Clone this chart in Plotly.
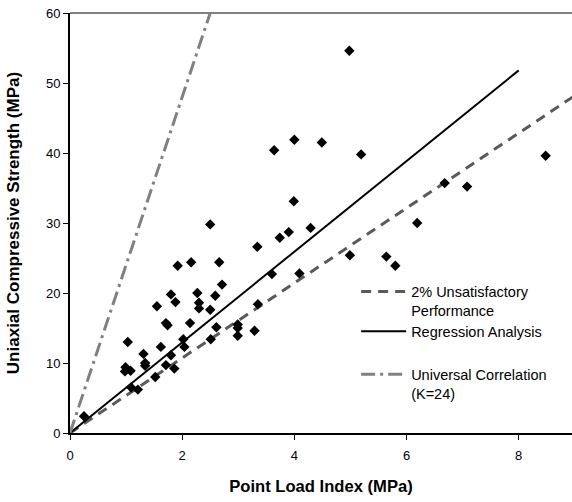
import plotly.graph_objects as go

# Point Load Index (MPa) vs Uniaxial Compressive Strength (MPa)
pli = [0.25, 0.99, 0.98, 1.08, 1.03, 1.09, 1.21, 1.31, 1.34, 1.34,
       1.52, 1.55, 1.62, 1.71, 1.74, 1.71, 1.80, 1.86, 1.80, 1.88,
       1.92, 2.02, 2.04, 2.14, 2.16, 2.27, 2.30, 2.30, 2.50, 2.51,
       2.50, 2.59, 2.61, 2.66, 2.71, 2.99, 2.99, 2.99, 3.29, 3.34,
       3.35, 3.60, 3.64, 3.74, 3.90, 3.99, 4.00, 4.09, 4.29, 4.49,
       4.98, 4.99, 5.19, 5.64, 5.80, 6.19, 6.68, 7.08, 8.48]
ucs = [2.4, 9.4, 8.8, 8.9, 13.0, 6.5, 6.2, 11.3, 10.0, 9.6,
       8.0, 18.1, 12.3, 15.7, 15.4, 9.7, 11.1, 9.2, 19.8, 18.7,
       23.9, 13.4, 12.3, 15.7, 24.4, 20.0, 18.6, 17.8, 17.6, 13.4,
       29.8, 19.6, 15.1, 24.4, 21.2, 15.5, 15.0, 13.9, 14.6, 26.6,
       18.4, 22.7, 40.4, 27.9, 28.7, 33.1, 41.9, 22.8, 29.3, 41.5,
       54.6, 25.4, 39.8, 25.2, 23.9, 30.0, 35.7, 35.2, 39.6]

# Line endpoints
unsat_x = [0, 9]
unsat_y = [0, 48.2]
reg_x = [0, 8]
reg_y = [0, 51.8]
univ_x = [0, 2.5]
univ_y = [0, 60]

names = ["2% Unsatisfactory<br>Performance", "Regression Analysis",
         "Universal Correlation<br>(K=24)"]
x_ticks = [0, 2, 4, 6, 8]
y_ticks = [0, 10, 20, 30, 40, 50, 60]

FONT = "Liberation Sans, Arial, sans-serif"

fig = go.Figure()
fig.add_trace(go.Scatter(x=unsat_x, y=unsat_y, mode="lines", name=names[0],
                         line=dict(color="#5a5a5a", width=3, dash="10px,7px"),
                         legend="legend"))
fig.add_trace(go.Scatter(x=reg_x, y=reg_y, mode="lines", name=names[1],
                         line=dict(color="black", width=2), legend="legend2"))
fig.add_trace(go.Scatter(x=univ_x, y=univ_y, mode="lines", name=names[2],
                         line=dict(color="#808080", width=3, dash="14px,5px,3px,5px"),
                         legend="legend3"))
fig.add_trace(go.Scatter(x=pli, y=ucs, mode="markers", showlegend=False,
                         marker=dict(symbol="diamond", size=8, color="black")))

leg_common = dict(xanchor="left", yanchor="top", bgcolor="rgba(0,0,0,0)",
                  font=dict(family=FONT, size=14.5, color="black"),
                  valign="top", itemwidth=45)
fig.update_layout(
    width=572, height=502,
    margin=dict(l=70, r=0, t=13, b=69, autoexpand=False),
    paper_bgcolor="white", plot_bgcolor="white",
    font=dict(family=FONT, size=13, color="black"),
    legend=dict(x=0.57, y=0.375, **leg_common),
    legend2=dict(x=0.57, y=0.28, **leg_common),
    legend3=dict(x=0.57, y=0.178, **leg_common),
    xaxis=dict(range=[0, 8.95], tickvals=x_ticks, ticks="outside", ticklen=5,
               tickcolor="black", showline=True, linecolor="black", linewidth=2,
               showgrid=False, zeroline=False, ticklabelstandoff=4,
               tickfont=dict(family=FONT, size=13),
               title=dict(text="<b>Point Load Index (MPa)</b>",
                          font=dict(family=FONT, size=16.6), standoff=19)),
    yaxis=dict(range=[0, 60], tickvals=y_ticks, ticks="outside", ticklen=5,
               tickcolor="black", showline=True, linecolor="black", linewidth=2,
               showgrid=False, zeroline=False,
               tickfont=dict(family=FONT, size=13),
               title=dict(text="<b>Uniaxial Compressive Strength (MPa)</b>",
                          font=dict(family=FONT, size=17), standoff=22)),
    shapes=[dict(type="line", xref="paper", yref="paper", x0=0, x1=1, y0=1, y1=1,
                 line=dict(color="#808080", width=2))],
)

fig.write_html("out.html", config={"displayModeBar": False},
               post_script="document.body.style.margin='0';")
